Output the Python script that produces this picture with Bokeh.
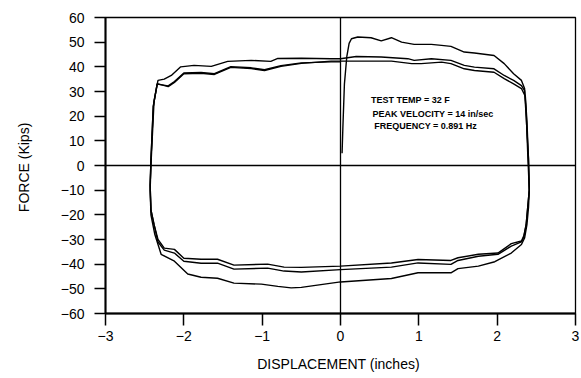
from bokeh.plotting import figure
from bokeh.models import Span, Label, FixedTicker, Range1d
from bokeh.embed import file_html
from bokeh.resources import INLINE

# ---- data ----
x_ticks = [-3, -2, -1, 0, 1, 2, 3]
x_tick_labels = ["\u22123", "\u22122", "\u22121", "0", "1", "2", "3"]
y_ticks = [-60, -50, -40, -30, -20, -10, 0, 10, 20, 30, 40, 50, 60]
y_tick_labels = ["\u221260", "\u221250", "\u221240", "\u221230", "\u221220", "\u221210",
                 "0", "10", "20", "30", "40", "50", "60"]

cycle1_x = [0.02, 0.03, 0.05, 0.08, 0.11, 0.14, 0.22, 0.39, 0.52, 0.65, 0.78, 0.94, 1.16, 1.29,
            1.41, 1.58, 1.71, 1.96, 2.09, 2.21, 2.31, 2.35, 2.37, 2.39, 2.41, 2.40, 2.38, 2.35,
            2.31, 2.18, 1.97, 1.76, 1.50, 1.41, 0.99, 0.65, 0.0, -0.5, -0.63, -0.8, -1.01, -1.36,
            -1.57, -1.78, -1.95, -2.12, -2.29, -2.37, -2.42, -2.43, -2.42, -2.38, -2.33, -2.25,
            -2.16, -2.04, -1.87, -1.65, -1.44, -1.14, -0.89, -0.8, -0.5, -0.12, 0.0]
cycle1_y = [5, 15, 33, 44, 49.5, 51.4, 52.1, 51.8, 50.5, 51.8, 50, 49.1, 49.1, 48.7,
            48.3, 46, 45.6, 44.6, 41.3, 37.2, 34.5, 31.2, 22, 5, -10, -17, -24, -29.4,
            -32, -35.5, -39, -40.8, -41.8, -43.5, -43.5, -45.8, -47.2, -49.4, -49.6, -49, -48.1, -47.7,
            -45.7, -45.3, -44, -38.8, -36, -28, -20, -10, 0, 26.3, 34.5, 35,
            36.5, 40, 40.6, 40.2, 42.2, 42.6, 42.2, 43.4, 43.5, 43.3, 43.3]

cycle2_x = [0.0, 0.2, 0.52, 0.86, 0.94, 1.16, 1.41, 1.58, 1.71, 1.96, 2.09, 2.21, 2.31, 2.35,
            2.37, 2.40, 2.41, 2.39, 2.37, 2.34, 2.31, 2.18, 2.01, 1.76, 1.50, 1.41, 0.99, 0.65,
            0.0, -0.5, -0.72, -0.93, -1.36, -1.57, -1.78, -2.0, -2.12, -2.25, -2.33, -2.38,
            -2.42, -2.43, -2.42, -2.39, -2.34, -2.2, -2.12, -2.0, -1.78, -1.61, -1.4, -1.14,
            -0.97, -0.76, -0.5, -0.12, 0.0]
cycle2_y = [43.3, 44.2, 44, 43.3, 42.6, 43.3, 42.6, 40.6, 39.9, 39.2, 36.5, 34.5, 32.4, 30.4,
            20, 3, -10, -17, -24, -29, -31, -32.7, -36, -36.8, -38.5, -40.1, -39.5, -41.2,
            -42.2, -43.2, -42.8, -41.6, -42, -39.6, -39.6, -38.8, -35.5, -34.3, -31, -24,
            -18, -8, 2, 24, 33.2, 32, 33.7, 37.2, 37.4, 36.9, 39.8, 39.3,
            38.5, 40.2, 41.4, 42.3, 42.3]

cycle3_x = [0.0, 0.14, 0.65, 0.91, 1.03, 1.29, 1.41, 1.58, 1.71, 1.96, 2.09, 2.21, 2.31, 2.36,
            2.38, 2.40, 2.41, 2.39, 2.37, 2.34, 2.31, 2.18, 2.01, 1.76, 1.50, 1.41, 0.99, 0.65,
            0.0, -0.5, -0.72, -0.93, -1.36, -1.57, -1.78, -2.0, -2.12, -2.25, -2.33, -2.38,
            -2.42, -2.43, -2.42, -2.39, -2.34, -2.2, -2.12, -2.0, -1.78, -1.61, -1.4, -1.14,
            -0.97, -0.76, -0.5, -0.12, 0.0]
cycle3_y = [42.3, 42.3, 42.3, 41.3, 41.3, 41.9, 41.3, 39.2, 38.5, 37.8, 35.2, 33.1, 31.2, 28,
            18, 2, -10, -17, -24, -28.5, -30.6, -31.7, -35.5, -36, -37.4, -38.5, -38.1, -39.5,
            -40.8, -41.3, -41.2, -40, -40.4, -38, -38, -37.6, -34, -33.5, -30, -24,
            -18, -8, 2, 24, 33, 32.3, 34, 37.5, 37.7, 37.2, 40.1, 39.6,
            38.8, 40.5, 41.6, 42, 42]

notes = ["TEST TEMP = 32  F", "PEAK VELOCITY = 14 in/sec", "FREQUENCY = 0.891 Hz"]
notes_x = [0.39, 0.41, 0.43]
notes_y = [26.7, 20.9, 16.2]

FONT = "Liberation Sans"

p = figure(width=581, height=378, x_range=Range1d(-3, 3), y_range=Range1d(-60, 60),
           output_backend="svg", toolbar_location=None,
           min_border_left=105, min_border_right=6, min_border_top=17, min_border_bottom=65)
p.background_fill_color = "white"
p.border_fill_color = "white"
p.outline_line_color = "black"
p.outline_line_width = 1.3
p.xgrid.visible = False
p.ygrid.visible = False

for xs, ys in [(cycle1_x, cycle1_y), (cycle2_x, cycle2_y), (cycle3_x, cycle3_y)]:
    p.line(xs, ys, line_color="black", line_width=1.4)

p.add_layout(Span(location=0, dimension="height", line_color="black", line_width=1.3))
p.add_layout(Span(location=0, dimension="width", line_color="black", line_width=1.3))

for ax, ticks, labels in [(p.xaxis[0], x_ticks, x_tick_labels), (p.yaxis[0], y_ticks, y_tick_labels)]:
    ax.ticker = FixedTicker(ticks=ticks)
    ax.major_label_overrides = {t: l for t, l in zip(ticks, labels)}
    ax.minor_tick_line_color = None
    ax.major_tick_in = 0
    ax.axis_line_width = 2
    ax.major_tick_line_width = 1.5
    ax.major_label_text_font = FONT
    ax.major_label_text_font_size = "14px"
    ax.major_label_text_color = "black"
    ax.axis_label_text_font = FONT
    ax.axis_label_text_font_size = "14px"
    ax.axis_label_text_font_style = "normal"
    ax.axis_label_text_color = "black"

p.xaxis[0].major_tick_out = 12
p.xaxis[0].major_label_standoff = 5
p.xaxis[0].axis_label = "DISPLACEMENT  (inches)"
p.xaxis[0].axis_label_standoff = 12
p.yaxis[0].major_tick_out = 11
p.yaxis[0].major_label_standoff = 10
p.yaxis[0].axis_label = "FORCE  (Kips)"
p.yaxis[0].axis_label_standoff = 26

for t, x, y in zip(notes, notes_x, notes_y):
    p.add_layout(Label(x=x, y=y, text=t, text_font=FONT, text_font_size="9px",
                       text_font_style="bold", text_baseline="middle", text_color="black"))

open("out.html", "w").write(file_html(p, INLINE))
